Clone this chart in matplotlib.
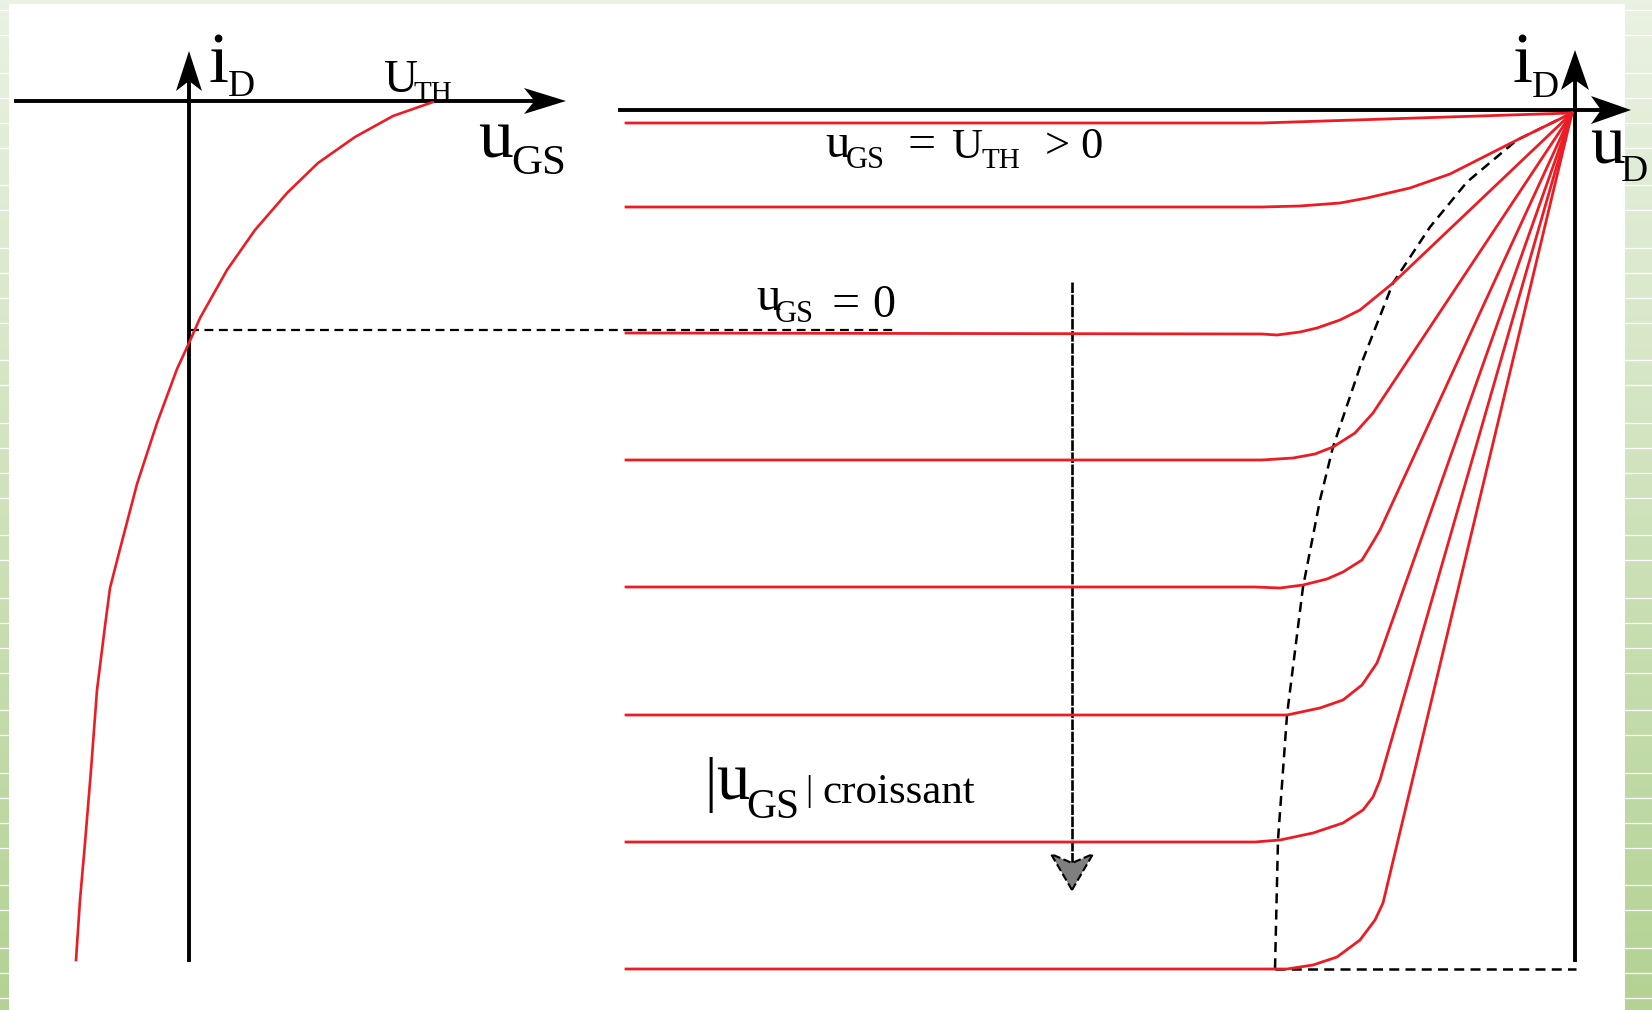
import numpy as np
import matplotlib.pyplot as plt
from matplotlib.patches import Polygon, Rectangle

W, H = 1652, 1010
RED = '#ED1C24'
SERIF = ['Liberation Serif', 'DejaVu Serif']

# transfer characteristic i_D = f(u_GS), left diagram
transfer_x = [76, 80, 85, 91, 97, 105, 110, 120, 137, 157, 177, 189, 200, 227, 255,
              287, 318, 355, 393, 433]
transfer_y = [960, 900, 843, 770, 690, 626, 588, 549, 484, 423, 369, 343, 318, 270, 230,
              193, 163, 137, 116, 102]
idss_y = 330
idss_x_end = 893

# output characteristics i_D = f(u_D), one curve per u_GS step
out_x = [
    [626, 1262, 1572],
    [626, 1262, 1300, 1340, 1367, 1410, 1450, 1517, 1572],
    [626, 1262, 1277, 1300, 1317, 1340, 1360, 1393, 1572],
    [626, 1262, 1293, 1315, 1333, 1355, 1373, 1572],
    [626, 1255, 1280, 1303, 1327, 1343, 1362, 1373, 1380, 1572],
    [626, 1255, 1287, 1320, 1343, 1362, 1377, 1383, 1572],
    [626, 1255, 1280, 1313, 1343, 1363, 1373, 1380, 1572],
    [626, 1255, 1287, 1313, 1337, 1360, 1375, 1383, 1572],
]
out_y = [
    [123, 123, 113],
    [207, 207, 206, 203, 198, 188, 174, 140, 113],
    [333, 334, 335, 332, 328, 320, 310, 283, 113],
    [460, 460, 458, 454, 447, 433, 413, 113],
    [587, 587, 588, 585, 579, 572, 560, 542, 530, 113],
    [715, 715, 715, 708, 700, 685, 663, 647, 113],
    [842, 842, 840, 833, 823, 810, 797, 780, 113],
    [969, 969, 969, 965, 957, 940, 920, 903, 113],
]

# pinch-off locus
pinch_x = [1572, 1517, 1467, 1430, 1393, 1360, 1333, 1320, 1303, 1287, 1278, 1275]
pinch_y = [113, 140, 182, 227, 283, 367, 447, 500, 587, 715, 840, 969]

fig = plt.figure(figsize=(W / 100, H / 100), dpi=100)
ax = fig.add_axes([0, 0, 1, 1])
ax.set_xlim(0, W)
ax.set_ylim(H, 0)
ax.axis('off')

# green gradient frame with white stripes on the side strips
top = np.array([234, 242, 227]) / 255
bot = np.array([179, 210, 147]) / 255
t = np.linspace(0, 1, 256)[:, None, None]
grad = top * (1 - t) + bot * t
ax.imshow(grad, extent=[0, W, H, 0], aspect='auto', zorder=0)
gaps = [25, 38, 25, 25, 25, 37]
ys, yy, k = [], 10, 0
while yy < H:
    ys.append(yy)
    yy += gaps[k % len(gaps)]
    k += 1
for yy in ys:
    ax.plot([0, 9], [yy, yy], color='white', lw=0.9, zorder=1)
    ax.plot([1625, W], [yy, yy], color='white', lw=0.9, zorder=1)
ax.add_patch(Rectangle((9, 4), 1616, H, facecolor='white', edgecolor='none', zorder=1))


def head(tx, ty, dx, dy, length=40, half=13, color='black', **kw):
    # stealth-style arrow head pointing along (dx, dy)
    px, py = -dy, dx
    pts = [(tx, ty),
           (tx - dx * length + px * half, ty - dy * length + py * half),
           (tx - dx * length * 0.75, ty - dy * length * 0.75),
           (tx - dx * length - px * half, ty - dy * length - py * half)]
    ax.add_patch(Polygon(pts, closed=True, facecolor=color, zorder=5, **kw))


def put(x, y, s, size):
    ax.text(x, y, s, fontsize=size, family=SERIF, ha='left', va='baseline', zorder=6)


AX_LW = 2.8
# left diagram axes
ax.plot([16, 540], [101, 101], color='black', lw=AX_LW, zorder=3)
head(566, 101, 1, 0, 42, 13)
ax.plot([189, 189], [960, 75], color='black', lw=AX_LW, zorder=3)
head(189, 51, 0, -1, 40, 13)

# right diagram axes
ax.plot([620, 1605], [110, 110], color='black', lw=AX_LW, zorder=3)
head(1631, 110, 1, 0, 40, 14)
ax.plot([1575, 1575], [960, 75], color='black', lw=AX_LW, zorder=3)
head(1575, 50, 0, -1, 40, 14)

# curves
ax.plot(transfer_x, transfer_y, color=RED, lw=1.9, zorder=4, solid_joinstyle='round')
ax.plot([190, idss_x_end], [idss_y, idss_y], color='black', lw=1.6,
        ls=(0, (4, 2.5)), zorder=3)
for xs, yv in zip(out_x, out_y):
    ax.plot(xs, yv, color=RED, lw=2.0, zorder=4, solid_joinstyle='round')
ax.plot(pinch_x, pinch_y, color='black', lw=1.8, ls=(0, (4, 2.5)), zorder=3)
ax.plot([pinch_x[-1], 1576], [pinch_y[-1], pinch_y[-1]], color='black', lw=1.8,
        ls=(0, (4, 2.5)), zorder=3)

# |u_GS| increasing arrow
ax.plot([1072, 1072], [282, 872], color='black', lw=1.9, ls=(0, (4, 0.6)), zorder=3)
head(1072, 890, 0, 1, 36, 21, color='#7f7f7f', edgecolor='black', lw=1.5, ls='--')

# labels
put(209, 82, 'i', 52)
put(228, 96, 'D', 27)
put(384, 92, 'U', 34)
put(414, 101, 'TH', 21)
put(478, 158, 'u', 50)
put(511, 174, 'GS', 31)

put(1513, 82, 'i', 52)
put(1532, 97, 'D', 27)
put(1590, 163, 'u', 50)
put(1621, 181, 'D', 27)

put(825, 157, 'u', 35)
put(846, 168, 'GS', 22)
put(907, 158, '=', 36)
put(951, 158, 'U', 31)
put(982, 168, 'TH', 21)
put(1045, 158, '>', 32)
put(1080, 158, '0', 32)

put(756, 310, 'u', 35)
put(775, 322, 'GS', 22)
put(832, 317, '=', 36)
put(872, 317, '0', 33)

put(704, 800, '|', 44)
put(716, 800, 'u', 48)
put(746, 818, 'GS', 30)
put(805, 800, '|', 26)
put(822, 803, 'croissant', 31)

fig.savefig('out.png', dpi=100)
